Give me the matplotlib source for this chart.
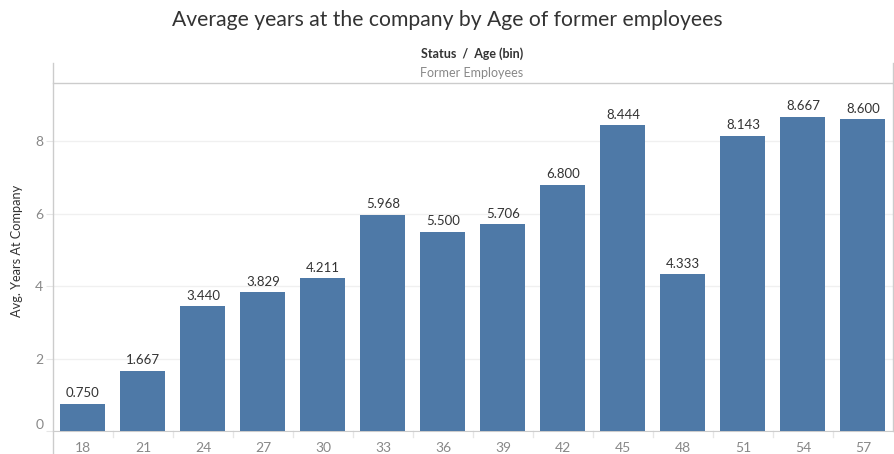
import matplotlib
matplotlib.use("Agg")
import matplotlib.pyplot as plt
from matplotlib.lines import Line2D

ages = ["18", "21", "24", "27", "30", "33", "36", "39", "42", "45", "48", "51", "54", "57"]
avg_years = [0.750, 1.667, 3.440, 3.829, 4.211, 5.968, 5.500, 5.706, 6.800, 8.444, 4.333, 8.143, 8.667, 8.600]
yticks = [0, 2, 4, 6, 8]

plt.rcParams['font.family'] = ['Lato', 'DejaVu Sans']

W, H = 895, 454
fig = plt.figure(figsize=(W / 100, H / 100), dpi=100)
x0, x1, yb, yt = 53, 893, 431, 83
ax = fig.add_axes([x0 / W, (H - yb) / H, (x1 - x0) / W, (yb - yt) / H])

xs = list(range(len(ages)))
ax.bar(xs, avg_years, width=0.75, color="#4e79a7", zorder=3)
for x, v in zip(xs, avg_years):
    ax.text(x, v + 0.12, f"{v:.3f}", ha="center", va="bottom", fontsize=9.5, color="#333333")

ax.set_xlim(-0.5, len(ages) - 0.5)
ax.set_ylim(0, 9.6)
ax.set_yticks(yticks)
ax.set_yticklabels([str(t) for t in yticks], color="#888888", fontsize=10)
ax.get_yticklabels()[0].set_va("bottom")
ax.set_xticks(xs)
ax.set_xticklabels(ages, color="#888888", fontsize=10)
ax.tick_params(axis="x", length=0, pad=8)
ax.tick_params(axis="y", length=5, color="#e6e6e6", pad=2)
ax.yaxis.grid(True, color="#f0f0f0", linewidth=1, zorder=0)
for s in ["top", "right", "left"]:
    ax.spines[s].set_visible(False)
ax.spines["bottom"].set_color("#cccccc")

# category separators below axis
for i in range(1, len(ages)):
    ax.plot([i - 0.5, i - 0.5], [0, -0.17], color="#e6e6e6", lw=1, clip_on=False)

ax.set_ylabel("Avg. Years At Company", fontsize=9.2, color="#333333")
ax.yaxis.set_label_coords(-0.043, 0.517)
ax.yaxis.label.set_va("center")

def fx(px):
    return px / W

def fy(py):
    return (H - py) / H

lc = "#cccccc"
fig.add_artist(Line2D([fx(53), fx(53)], [fy(63), fy(454)], color=lc, lw=1))
fig.add_artist(Line2D([fx(893), fx(893)], [fy(63), fy(431)], color=lc, lw=1))
fig.add_artist(Line2D([fx(53), fx(893)], [fy(83), fy(83)], color=lc, lw=1))

fig.text(fx(447), fy(20), "Average years at the company by Age of former employees",
         ha="center", va="center", fontsize=15.2, color="#333333")
fig.text(fx(472), fy(54), "Status  /  Age (bin)", ha="center", va="center",
         fontsize=9, color="#333333", fontweight="bold")
fig.text(fx(472), fy(73), "Former Employees", ha="center", va="center",
         fontsize=9, color="#888888")

fig.savefig("out.png", dpi=100)
